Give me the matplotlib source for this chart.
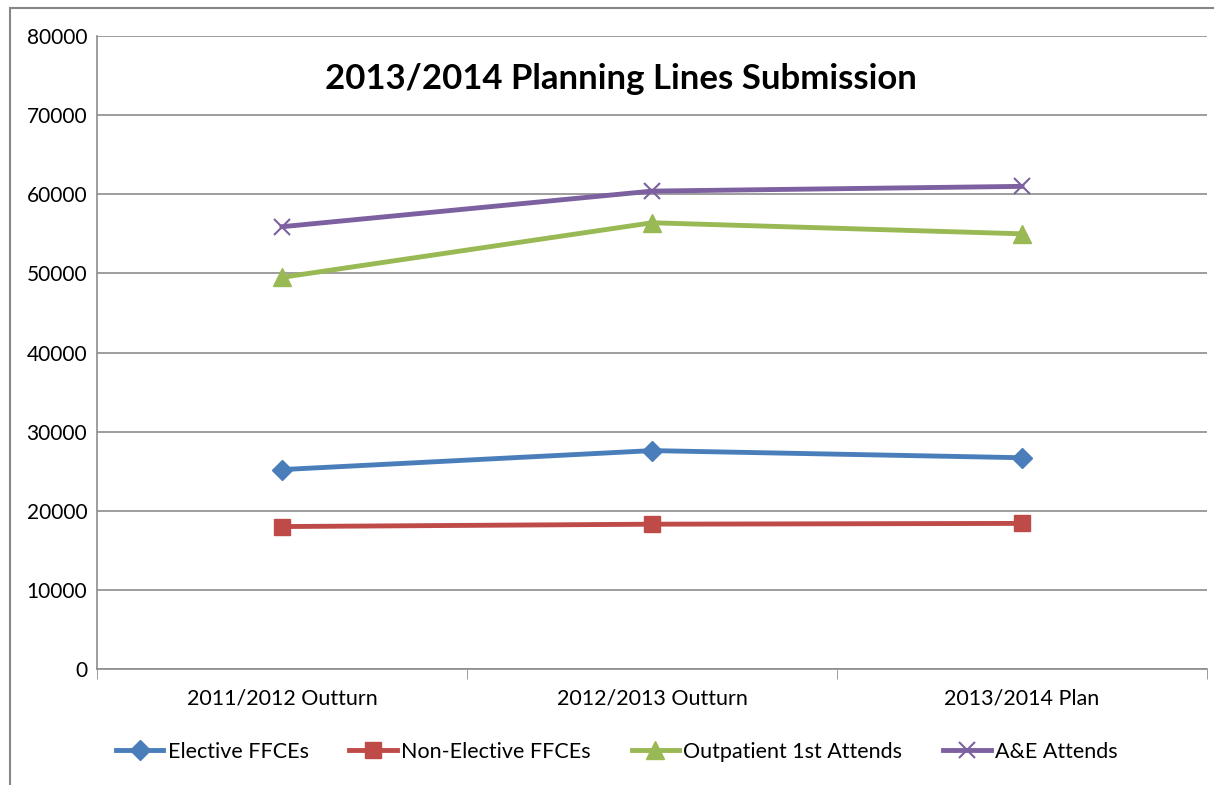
import matplotlib.pyplot as plt
from matplotlib.patches import Rectangle

# Data
categories = ['2011/2012 Outturn', '2012/2013 Outturn', '2013/2014 Plan']
elective = [25200, 27600, 26700]
non_elective = [18000, 18300, 18400]
outpatient = [49500, 56400, 55000]
ae_attends = [55900, 60400, 61000]

plt.rcParams['font.family'] = ['Lato', 'DejaVu Sans']

fig = plt.figure(figsize=(12.14, 7.85), dpi=100)
ax = fig.add_axes([0.0799, 0.1478, 0.9143, 0.8063])

# Outer chart frame
fig.patches.append(Rectangle((10 / 1214, -0.1), 1.2, 1 - 8 / 785 + 0.1,
                             transform=fig.transFigure, fill=False,
                             edgecolor='#878787', linewidth=1.5))

x = range(len(categories))
ax.plot(x, elective, color='#4a7ebb', linewidth=3.5, marker='D', markersize=10,
        label='Elective FFCEs')
ax.plot(x, non_elective, color='#be4b48', linewidth=3.5, marker='s', markersize=11,
        label='Non-Elective FFCEs')
ax.plot(x, outpatient, color='#98b954', linewidth=3.5, marker='^', markersize=13,
        label='Outpatient 1st Attends')
ax.plot(x, ae_attends, color='#7d60a0', linewidth=3.5, marker='x', markersize=12,
        markeredgewidth=1.5, label='A&E Attends')

ax.set_xlim(-0.5, 2.5)
ax.set_ylim(0, 80000)
ax.set_yticks(range(0, 80001, 10000))
ax.grid(axis='y', color='#8c8c8c', linewidth=1.2)
ax.set_axisbelow(True)

ax.set_xticks(x)
ax.set_xticklabels(categories, fontsize=15.5)
ax.tick_params(axis='x', length=0, pad=14)
ax.set_xticks([-0.5, 0.5, 1.5, 2.5], minor=True)
ax.tick_params(axis='x', which='minor', length=7, direction='out', color='#8c8c8c')
ax.tick_params(axis='y', length=0, labelsize=15, pad=7)

for s in ['top', 'right']:
    ax.spines[s].set_visible(False)
for s in ['left', 'bottom']:
    ax.spines[s].set_color('#8c8c8c')
    ax.spines[s].set_linewidth(1.2)

ax.text(0.472, 0.932, '2013/2014 Planning Lines Submission', transform=ax.transAxes,
        ha='center', va='center', fontsize=25, fontweight='bold')

fig.legend(loc='center', bbox_to_anchor=(0.508, 0.042), ncol=4, frameon=False,
           fontsize=15.5, handlelength=2.2, columnspacing=1.9, handletextpad=0.2)

fig.savefig('out.png', dpi=100)
